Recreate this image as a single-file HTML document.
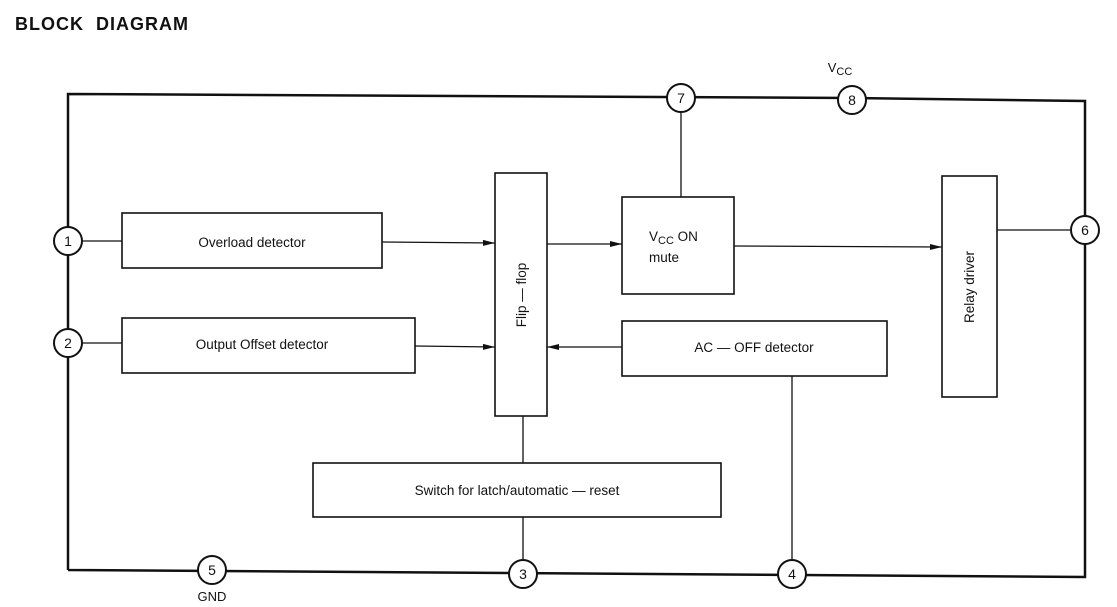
<!DOCTYPE html>
<html><head><style>
html,body{margin:0;padding:0;background:#fff;}
svg{display:block;}
text{font-family:"Liberation Sans",sans-serif;fill:#111;}
</style></head><body>
<svg width="1117" height="607" viewBox="0 0 1117 607" xmlns="http://www.w3.org/2000/svg">
<defs><marker id="a" markerWidth="12" markerHeight="8" refX="12" refY="4" orient="auto" markerUnits="userSpaceOnUse"><path d="M0,1 L12,4 L0,7 Z" fill="#111"/></marker></defs>
<text x="15" y="30" font-size="18" font-weight="bold" letter-spacing="1" xml:space="preserve">BLOCK  DIAGRAM</text>
<g fill="none" stroke="#111">
<polyline points="68,570 68,94 852,98 1085,101 1085,577 68,570" stroke-width="2.5"/>
<g stroke-width="1.6">
<rect x="122" y="213" width="260" height="55"/>
<rect x="122" y="318" width="293" height="55"/>
<rect x="495" y="173" width="52" height="243"/>
<rect x="622" y="197" width="112" height="97"/>
<rect x="622" y="321" width="265" height="55"/>
<rect x="942" y="176" width="55" height="221"/>
<rect x="313" y="463" width="408" height="54"/>
</g>
<g stroke-width="1.3">
<line x1="68" y1="241" x2="122" y2="241"/>
<line x1="68" y1="343" x2="122" y2="343"/>
<line x1="382" y1="242" x2="495" y2="243" marker-end="url(#a)"/>
<line x1="415" y1="346" x2="495" y2="347" marker-end="url(#a)"/>
<line x1="547" y1="244" x2="622" y2="244" marker-end="url(#a)"/>
<line x1="734" y1="246" x2="942" y2="247" marker-end="url(#a)"/>
<line x1="622" y1="347" x2="547" y2="347" marker-end="url(#a)"/>
<line x1="681" y1="98" x2="681" y2="197"/>
<line x1="997" y1="230" x2="1085" y2="230"/>
<line x1="523" y1="416" x2="523" y2="463"/>
<line x1="523" y1="517" x2="523" y2="574"/>
<line x1="792" y1="376" x2="792" y2="574"/>
</g>
<g stroke-width="2" fill="#fff">
<circle cx="68" cy="241" r="14"/>
<circle cx="68" cy="343" r="14"/>
<circle cx="681" cy="98" r="14"/>
<circle cx="852" cy="100" r="14"/>
<circle cx="1085" cy="230" r="14"/>
<circle cx="212" cy="570" r="14"/>
<circle cx="523" cy="574" r="14"/>
<circle cx="792" cy="574" r="14"/>
</g>
</g>
<g font-size="14" text-anchor="middle">
<text x="68" y="246">1</text>
<text x="68" y="348">2</text>
<text x="681" y="103">7</text>
<text x="852" y="105">8</text>
<text x="1085" y="235">6</text>
<text x="212" y="575">5</text>
<text x="523" y="579">3</text>
<text x="792" y="579">4</text>
<text x="212" y="601" font-size="13">GND</text>
<text x="840" y="72" font-size="13">V<tspan font-size="11" dy="3">CC</tspan></text>
<text x="252" y="247" font-size="13.5">Overload  detector</text>
<text x="262" y="349" font-size="13.5">Output  Offset  detector</text>
<text x="754" y="352" font-size="13.5">AC — OFF  detector</text>
<text x="517" y="495" font-size="13.5">Switch  for  latch/automatic — reset</text>
<text transform="translate(526,295) rotate(-90)" font-size="13.5">Flip — flop</text>
<text transform="translate(974,287) rotate(-90)" font-size="13.5">Relay  driver</text>
</g>
<text x="649" y="241" font-size="13.5">V<tspan font-size="11" dy="3">CC</tspan><tspan dy="-3">  ON</tspan></text>
<text x="649" y="262" font-size="13.5">mute</text>
</svg>
</body></html>
